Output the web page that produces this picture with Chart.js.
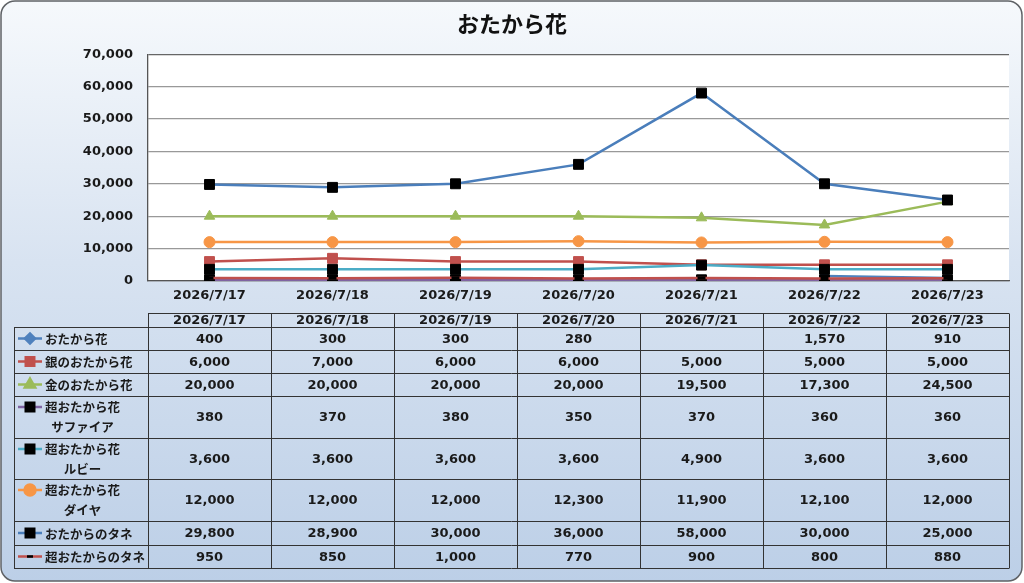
<!DOCTYPE html>
<html>
<head>
<meta charset="utf-8">
<style>
  html, body { margin: 0; padding: 0; background: #ffffff; }
  #wrap { width: 1024px; height: 583px; }
</style>
<script src="https://cdn.jsdelivr.net/npm/chart.js@4.4.1/dist/chart.umd.min.js"></script>
</head>
<body>
<div id="wrap"><canvas id="chart" width="1024" height="583"></canvas></div>
<script>
// chart values
const dates = ["2026/7/17", "2026/7/18", "2026/7/19", "2026/7/20", "2026/7/21", "2026/7/22", "2026/7/23"];
const yTicks = [0, 10000, 20000, 30000, 40000, 50000, 60000, 70000];

const otakaraHana = [400, 300, 300, 280, null, 1570, 910];
const ginHana = [6000, 7000, 6000, 6000, 5000, 5000, 5000];
const kinHana = [20000, 20000, 20000, 20000, 19500, 17300, 24500];
const sapphire = [380, 370, 380, 350, 370, 360, 360];
const ruby = [3600, 3600, 3600, 3600, 4900, 3600, 3600];
const diamond = [12000, 12000, 12000, 12300, 11900, 12100, 12000];
const otakaraTane = [29800, 28900, 30000, 36000, 58000, 30000, 25000];
const chouTane = [950, 850, 1000, 770, 900, 800, 880];

const seriesNames = [
  ["おたから花"],
  ["銀のおたから花"],
  ["金のおたから花"],
  ["超おたから花", "サファイア"],
  ["超おたから花", "ルビー"],
  ["超おたから花", "ダイヤ"],
  ["おたからのタネ"],
  ["超おたからのタネ"],
];
const seriesValues = [otakaraHana, ginHana, kinHana, sapphire, ruby, diamond, otakaraTane, chouTane];

const lineColors = ["#4F81BD", "#C0504D", "#9BBB59", "#8064A2", "#4BACC6", "#F79646", "#4A7EBB", "#C0504D"];
const markerColors = ["#4F81BD", "#C0504D", "#9BBB59", "#000000", "#000000", "#F79646", "#000000", "#000000"];
const markerStyles = ["rectRot", "rect", "triangle", "rect", "rect", "circle", "rect", "line"];
const markerSizes = [5, 7, 6, 7, 7, 5.5, 7, 4];

const FONT = "'DejaVu Sans', 'Noto Sans CJK JP', sans-serif";
const JP_FONT = "'Noto Sans CJK JP', sans-serif";
const fmt = (v) => v.toLocaleString("en-US");

// table row heights (header first)
const rowHeights = [14, 23, 23, 23, 42, 41, 42, 24, 23];
const tableTop = 313;
const tableLeft = 14;

function drawMarker(ctx, style, x, y, r) {
  Chart.helpers.drawPoint(ctx, {
    pointStyle: style,
    radius: r,
    borderWidth: style === "line" ? 3 : 1,
  }, x, y);
}

// background, frame and white plot area
const framePlugin = {
  id: "frame",
  beforeDraw(chart) {
    const ctx = chart.ctx;
    const { left, top, right, bottom } = chart.chartArea;
    ctx.save();
    const g = ctx.createLinearGradient(0, 0, 0, 583);
    g.addColorStop(0, "#f6f9fc");
    g.addColorStop(0.45, "#d8e3f1");
    g.addColorStop(1, "#bccfe7");
    ctx.beginPath();
    ctx.roundRect(1, 1, 1021, 580, 14);
    ctx.fillStyle = g;
    ctx.fill();
    ctx.lineWidth = 1.5;
    ctx.strokeStyle = "#5f6266";
    ctx.stroke();
    ctx.fillStyle = "#ffffff";
    ctx.fillRect(left, top, right - left, bottom - top);
    ctx.restore();
  },
};

// data table under the plot, columns follow the x scale
const tablePlugin = {
  id: "dataTable",
  afterDraw(chart) {
    const ctx = chart.ctx;
    const xs = chart.scales.x;
    const half = (xs.getPixelForValue(1) - xs.getPixelForValue(0)) / 2;
    const colLeft = xs.getPixelForValue(0) - half;
    const colRight = xs.getPixelForValue(dates.length - 1) + half;

    const ys = [tableTop];
    rowHeights.forEach((h) => ys.push(ys[ys.length - 1] + h));

    ctx.save();
    ctx.strokeStyle = "#333";
    ctx.lineWidth = 1;

    // horizontal lines
    ys.forEach((y, i) => {
      ctx.beginPath();
      ctx.moveTo(i === 0 ? colLeft : tableLeft, Math.round(y) + 0.5);
      ctx.lineTo(colRight, Math.round(y) + 0.5);
      ctx.stroke();
    });
    // vertical lines
    const lastY = Math.round(ys[ys.length - 1]) + 0.5;
    ctx.beginPath();
    ctx.moveTo(tableLeft + 0.5, Math.round(ys[1]) + 0.5);
    ctx.lineTo(tableLeft + 0.5, lastY);
    ctx.stroke();
    for (let i = 0; i <= dates.length; i++) {
      const x = Math.round(colLeft + i * half * 2) + 0.5;
      ctx.beginPath();
      ctx.moveTo(x, tableTop + 0.5);
      ctx.lineTo(x, lastY);
      ctx.stroke();
    }

    ctx.fillStyle = "#1a1a1a";
    ctx.textAlign = "center";
    ctx.textBaseline = "middle";
    ctx.font = "bold 13px " + FONT;

    // header
    dates.forEach((d, i) => {
      ctx.fillText(d, xs.getPixelForValue(i), tableTop + rowHeights[0] / 2 + 0.5);
    });

    // rows
    seriesValues.forEach((vals, r) => {
      const y0 = ys[r + 1];
      const y1 = ys[r + 2];
      const mid = (y0 + y1) / 2;
      const names = seriesNames[r];

      // legend key
      const keyY = names.length > 1 ? y0 + 11 : mid;
      ctx.save();
      ctx.strokeStyle = lineColors[r];
      ctx.lineWidth = 2.5;
      ctx.beginPath();
      ctx.moveTo(18, keyY);
      ctx.lineTo(42, keyY);
      ctx.stroke();
      ctx.fillStyle = markerColors[r];
      ctx.strokeStyle = markerColors[r];
      drawMarker(ctx, markerStyles[r], 30, keyY,
        markerStyles[r] === "line" ? 3 : Math.min(markerSizes[r], 6));
      ctx.restore();

      // label
      ctx.textAlign = "left";
      ctx.font = "bold 12.5px " + JP_FONT;
      if (names.length === 1) {
        ctx.fillText(names[0], 45, mid + 1);
      } else {
        ctx.fillText(names[0], 45, y0 + 11);
        const w0 = ctx.measureText(names[0]).width;
        ctx.textAlign = "center";
        ctx.fillText(names[1], 45 + w0 / 2, y0 + 31);
      }

      // values
      ctx.textAlign = "center";
      ctx.font = "bold 13px " + FONT;
      vals.forEach((v, i) => {
        if (v === null) return;
        ctx.fillText(fmt(v), xs.getPixelForValue(i), mid + 1);
      });
    });
    ctx.restore();
  },
};

const datasets = seriesValues.map((vals, i) => ({
  label: seriesNames[i].join(""),
  data: vals,
  borderColor: lineColors[i],
  backgroundColor: markerColors[i],
  pointBackgroundColor: markerColors[i],
  pointBorderColor: markerColors[i],
  pointBorderWidth: markerStyles[i] === "line" ? 3 : 1,
  pointStyle: markerStyles[i],
  pointRadius: markerSizes[i],
  borderWidth: 2.5,
  tension: 0,
  spanGaps: false,
  order: seriesValues.length - i,
}));

new Chart(document.getElementById("chart").getContext("2d"), {
  type: "line",
  data: { labels: dates, datasets: datasets },
  options: {
    responsive: false,
    animation: false,
    layout: { padding: { left: 15, right: 15, top: 6, bottom: 278 } },
    plugins: {
      legend: { display: false },
      tooltip: { enabled: false },
      title: {
        display: true,
        text: "おたから花",
        color: "#111",
        font: { family: JP_FONT, size: 22, weight: "bold", lineHeight: 1.1 },
        padding: { top: 6, bottom: 18 },
      },
    },
    scales: {
      x: {
        offset: true,
        grid: { display: false, drawTicks: false },
        border: { color: "#555", width: 1.3 },
        ticks: { color: "#1a1a1a", font: { family: FONT, size: 13, weight: "bold" }, padding: 7 },
        afterFit(scale) { scale.height = 24; },
      },
      y: {
        min: 0,
        max: 70000,
        afterBuildTicks(scale) { scale.ticks = yTicks.map((v) => ({ value: v })); },
        grid: { color: (c) => (c.tick.value === 70000 ? "#666" : "#999"), lineWidth: 1.3, drawTicks: false },
        border: { color: "#555", width: 1.3 },
        ticks: {
          color: "#1a1a1a",
          font: { family: FONT, size: 13, weight: "bold" },
          padding: 15,
          callback: (v) => fmt(v),
        },
        afterFit(scale) { scale.width = 133; },
      },
    },
  },
  plugins: [framePlugin, tablePlugin],
});
</script>
</body>
</html>
